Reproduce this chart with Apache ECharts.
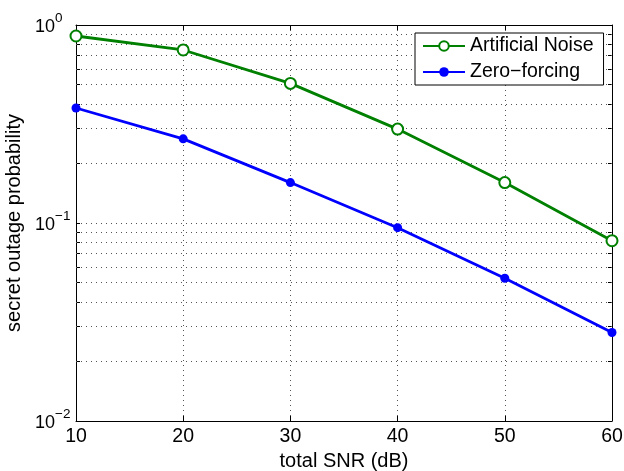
<!DOCTYPE html>
<html>
<head>
<meta charset="utf-8">
<script src="https://cdn.jsdelivr.net/npm/echarts@6/dist/echarts.min.js"></script>
<style>
    html, body { margin: 0; padding: 0; background: #fff; }
    #main { width: 624px; height: 471px; }
</style>
</head>
<body>
<div id="main"></div>
<script>
// data
const snr = [10, 20, 30, 40, 50, 60]
const artificialNoise = [0.88, 0.748, 0.507, 0.298, 0.160, 0.0814]
const zeroForcing = [0.381, 0.266, 0.160, 0.0947, 0.0526, 0.0280]
// decade ticks and minor log grid lines (2..9 x 10^-2 and 10^-1)
const yDecades = [0.01, 0.1, 1]
const minorGrid = [0.02, 0.03, 0.04, 0.05, 0.06, 0.07, 0.08, 0.09,
    0.2, 0.3, 0.4, 0.5, 0.6, 0.7, 0.8, 0.9]
const yAllTicks = yDecades.concat(minorGrid).sort((a, b) => a - b)

const font = 'Liberation Sans, Arial, Helvetica, sans-serif'
const gridDots = { color: '#555', width: 1, type: [1, 4] }
const boxLine = { color: '#000', width: 1 }

const myChart = echarts.init(document.getElementById('main'))

// 10^n labels with a raised exponent
const expLabel = (value) => {
    const e = Math.round(Math.log10(value))
    return '{b|10}{s|' + String(e).replace('-', '\u2212') + '}'
}

const option = {
    animation: false,
    textStyle: { fontFamily: font },
    grid: { left: 76, right: 12, top: 25, bottom: 50, containLabel: false, outerBoundsMode: 'none' },
    legend: {
        orient: 'vertical',
        left: 415,
        top: 33,
        padding: [3, 10, 3, 7],
        itemGap: 6,
        itemWidth: 42,
        itemHeight: 12,
        borderColor: '#000',
        borderWidth: 1,
        borderRadius: 0,
        backgroundColor: '#fff',
        textStyle: { fontSize: 19.5, color: '#000', fontFamily: font },
        data: ['Artificial Noise', 'Zero\u2212forcing'],
    },
    xAxis: [{
        type: 'value',
        min: 10,
        max: 60,
        interval: 10,
        name: 'total SNR (dB)',
        nameLocation: 'middle',
        nameGap: 20,
        nameTextStyle: { fontSize: 20, color: '#000' },
        axisLine: { lineStyle: boxLine },
        axisTick: { inside: true, length: 5, lineStyle: boxLine },
        axisLabel: { fontSize: 19.5, color: '#000', margin: 6 },
        splitLine: { show: true, lineStyle: gridDots },
    }, {
        type: 'value',
        position: 'top',
        min: 10,
        max: 60,
        interval: 10,
        axisLine: { show: true, lineStyle: boxLine },
        axisTick: { inside: true, length: 5, lineStyle: boxLine },
        axisLabel: { show: false },
        splitLine: { show: false },
    }],
    yAxis: [{
        type: 'log',
        logBase: 10,
        min: 0.01,
        max: 1,
        name: 'secret outage probability',
        nameLocation: 'middle',
        nameGap: 51,
        nameTextStyle: { fontSize: 20, color: '#000' },
        axisLine: { show: true, lineStyle: boxLine },
        axisTick: { inside: true, length: 4, lineStyle: boxLine, customValues: yAllTicks },
        axisLabel: {
            margin: 41,
            align: 'left',
            padding: [4, 0, 0, 0],
            formatter: expLabel,
            rich: {
                b: { fontSize: 18, color: '#000', fontFamily: font, lineHeight: 31 },
                s: { fontSize: 13.5, color: '#000', fontFamily: font, lineHeight: 13.5, verticalAlign: 'top' },
            },
        },
        splitLine: { show: true, lineStyle: gridDots },
    }, {
        type: 'log',
        logBase: 10,
        min: 0.01,
        max: 1,
        position: 'right',
        axisLine: { show: true, lineStyle: boxLine },
        axisTick: { inside: true, length: 4, lineStyle: boxLine, customValues: yAllTicks },
        axisLabel: { show: false },
        splitLine: { show: false },
    }],
    series: [{
        name: 'Artificial Noise',
        type: 'line',
        data: snr.map((x, i) => [x, artificialNoise[i]]),
        symbol: 'emptyCircle',
        symbolSize: 11,
        color: '#008000',
        lineStyle: { width: 2.8, color: '#008000' },
        itemStyle: { color: '#008000', borderColor: '#008000', borderWidth: 2.5 },
        z: 5,
        markLine: {
            silent: true,
            symbol: 'none',
            label: { show: false },
            lineStyle: gridDots,
            emphasis: { disabled: true },
            data: minorGrid.map((v) => ({ yAxis: v })),
            z: 1,
        },
    }, {
        name: 'Zero\u2212forcing',
        type: 'line',
        data: snr.map((x, i) => [x, zeroForcing[i]]),
        symbol: 'circle',
        symbolSize: 9,
        color: '#0000ff',
        lineStyle: { width: 2.8, color: '#0000ff' },
        itemStyle: { color: '#0000ff' },
        z: 5,
    }],
}

myChart.setOption(option)
</script>
</body>
</html>
